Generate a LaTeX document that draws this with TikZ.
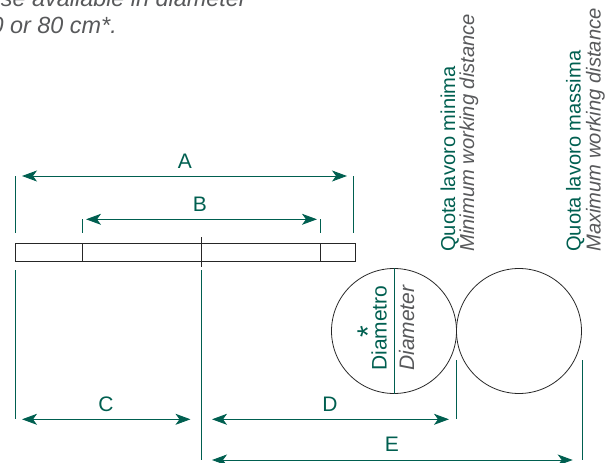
\documentclass[tikz,border=0pt]{standalone}
\usepackage{fontspec}
\setmainfont{Liberation Sans}
\usetikzlibrary{arrows.meta}
\definecolor{dimgreen}{HTML}{005F50}
\definecolor{txtgray}{HTML}{58595B}
\tikzset{%
    dimline/.style={draw=dimgreen, line width=.9pt, {Stealth[length=15pt, width=11pt, inset=4pt]}-{Stealth[length=15pt, width=11pt, inset=4pt]}},
    tickline/.style={draw=dimgreen, line width=.8pt},
    outline/.style={draw=black!85, line width=.8pt},
    greentxt/.style={text=dimgreen, font=\fontsize{21}{25}\selectfont, inner sep=0pt},
    graytxt/.style={text=txtgray, font=\fontsize{21}{25}\selectfont\itshape, inner sep=0pt},
    headgreen/.style={greentxt, font=\fontsize{20.1}{24}\selectfont},
    headgray/.style={graytxt, font=\fontsize{20.2}{24}\selectfont\itshape},
    notetxt/.style={graytxt, font=\fontsize{23.4}{27}\selectfont\itshape},
    disc/.style={circle, draw=black!85, line width=.8pt, minimum size=125pt, inner sep=0pt}
}
\begin{document}
\begin{tikzpicture}
  \useasboundingbox (0pt, 0pt) rectangle (614pt, -463pt);
  \clip (0pt, 0pt) rectangle (614pt, -463pt);
  % note at the top
  \node (note1) [notetxt, anchor=base east] at (247pt, -6pt) {se available in diameter};
  \node (note2) [notetxt, anchor=base east] at (117pt, -33pt) {0 or 80 cm*.};
  % rotated headings
  \node (qmin) [headgreen, rotate=90, anchor=base west] at (455pt, -252pt) {Quota lavoro minima};
  \node (wmin) [headgray, rotate=90, anchor=base west] at (474pt, -252pt) {Minimum working distance};
  \node (qmax) [headgreen, rotate=90, anchor=base west] at (580.7pt, -252pt) {Quota lavoro massima};
  \node (wmax) [headgray, rotate=90, anchor=base west] at (600.5pt, -252pt) {Maximum working distance};
  % plate
  \coordinate (pl) at (15pt, -243.3pt);
  \coordinate (pr) at (355pt, -261.3pt);
  \draw [outline] (pl) rectangle (pr);
  \coordinate (d1a) at (82.7pt, -243.3pt);
  \coordinate (d1b) at (82.7pt, -261.3pt);
  \coordinate (d2a) at (320.5pt, -243.3pt);
  \coordinate (d2b) at (320.5pt, -261.3pt);
  \coordinate (mida) at (201.3pt, -237pt);
  \coordinate (midb) at (201.3pt, -267pt);
  \draw [outline] (d1a) -- (d1b);
  \draw [outline] (d2a) -- (d2b);
  \draw [outline] (mida) -- (midb);
  % discs
  \node (disc1) [disc] at (394pt, -331pt) {};
  \node (disc2) [disc] at (519pt, -331pt) {};
  \draw [tickline] (disc1.north) -- (disc1.south);
  \node (diam) [greentxt, rotate=90, anchor=base west] at (386.7pt, -371pt) {Diametro};
  \node (diamen) [graytxt, rotate=90, anchor=base west] at (414pt, -371pt) {Diameter};
  \node (star) [greentxt, font=\fontsize{30}{30}\selectfont, rotate=90, anchor=base] at (378pt, -331.7pt) {*};
  % tick marks
  \coordinate (ta1) at (15.3pt, -176pt);
  \coordinate (ta2) at (15.3pt, -233pt);
  \coordinate (tb1) at (353.7pt, -176pt);
  \coordinate (tb2) at (353.7pt, -233pt);
  \coordinate (tc1) at (82.7pt, -219pt);
  \coordinate (tc2) at (82.7pt, -233pt);
  \coordinate (td1) at (320.5pt, -219pt);
  \coordinate (td2) at (320.5pt, -233pt);
  \coordinate (te1) at (15.3pt, -270pt);
  \coordinate (te2) at (15.3pt, -419pt);
  \coordinate (tf1) at (201pt, -270pt);
  \coordinate (tf2) at (201pt, -460pt);
  \coordinate (tg1) at (456pt, -360pt);
  \coordinate (tg2) at (456pt, -419pt);
  \coordinate (th1) at (582.3pt, -360pt);
  \coordinate (th2) at (582.3pt, -460pt);
  \draw [tickline] (ta1) -- (ta2);
  \draw [tickline] (tb1) -- (tb2);
  \draw [tickline] (tc1) -- (tc2);
  \draw [tickline] (td1) -- (td2);
  \draw [tickline] (te1) -- (te2);
  \draw [tickline] (tf1) -- (tf2);
  \draw [tickline] (tg1) -- (tg2);
  \draw [tickline] (th1) -- (th2);
  % dimension arrows
  \coordinate (a1) at (22pt, -176pt);
  \coordinate (a2) at (347pt, -176pt);
  \coordinate (b1) at (86pt, -219.3pt);
  \coordinate (b2) at (317pt, -219.3pt);
  \coordinate (c1) at (22pt, -419.3pt);
  \coordinate (c2) at (190.5pt, -419.3pt);
  \coordinate (d1) at (212pt, -419.3pt);
  \coordinate (d2) at (449pt, -419.3pt);
  \coordinate (e1) at (212pt, -460pt);
  \coordinate (e2) at (572.7pt, -460pt);
  \draw [dimline] (a1) -- (a2);
  \draw [dimline] (b1) -- (b2);
  \draw [dimline] (c1) -- (c2);
  \draw [dimline] (d1) -- (d2);
  \draw [dimline] (e1) -- (e2);
  \node (la) [greentxt, anchor=base] at (185pt, -168pt) {A};
  \node (lb) [greentxt, anchor=base] at (200pt, -211pt) {B};
  \node (lc) [greentxt, anchor=base] at (106pt, -411pt) {C};
  \node (ld) [greentxt, anchor=base] at (330pt, -411pt) {D};
  \node (le) [greentxt, anchor=base] at (392pt, -451pt) {E};
\end{tikzpicture}
\end{document}
